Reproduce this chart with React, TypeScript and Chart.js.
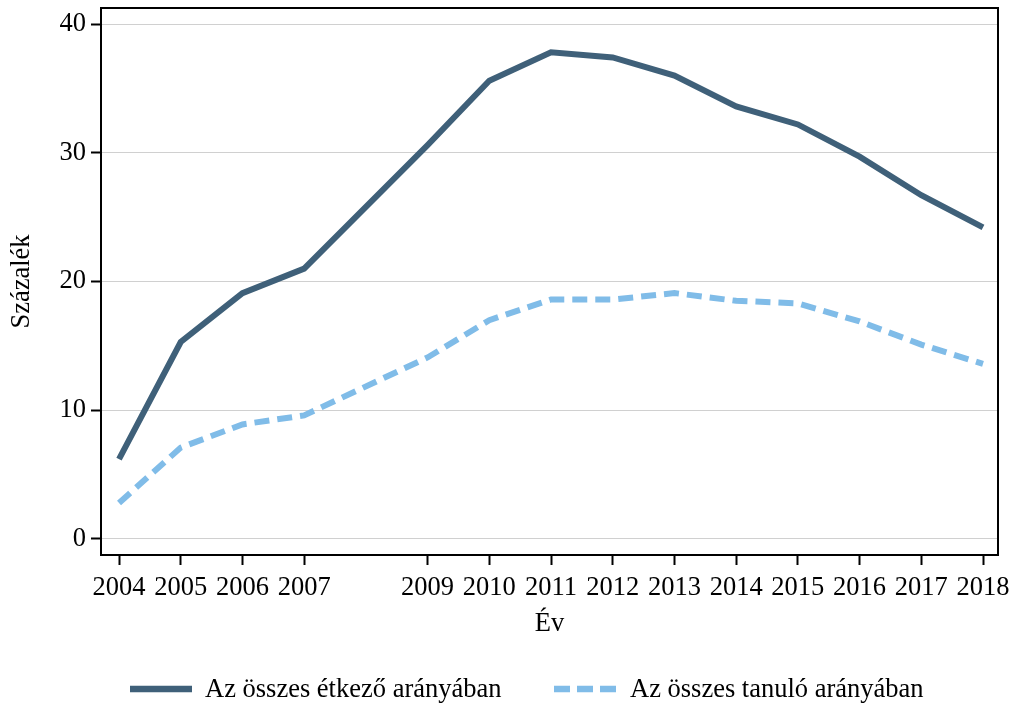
import React, { useEffect, useRef } from "react";
import { Chart, registerables } from "chart.js";

Chart.register(...registerables);

// ---- data ----
const years = [2004, 2005, 2006, 2007, 2009, 2010, 2011, 2012, 2013, 2014, 2015, 2016, 2017, 2018];
const mealShare = [6.2, 15.3, 19.1, 21.0, 30.6, 35.6, 37.8, 37.4, 36.0, 33.6, 32.2, 29.7, 26.7, 24.2];
const studentShare = [2.8, 7.1, 8.9, 9.6, 14.1, 17.0, 18.6, 18.6, 19.1, 18.5, 18.3, 16.9, 15.1, 13.6];
const xTickYears = [2004, 2005, 2006, 2007, 2009, 2010, 2011, 2012, 2013, 2014, 2015, 2016, 2017, 2018];
const yTickValues = [0, 10, 20, 30, 40];
const seriesNames = ["Az összes étkező arányában", "Az összes tanuló arányában"];
const xTitle = "Év";
const yTitle = "Százalék";

// ---- style ----
const FONT = "'Liberation Serif', 'Times New Roman', serif";
const DARK = "#3f6079";
const LIGHT = "#80bce8";
const FS = 26.5;

const framePlugin = {
  id: "frameBox",
  afterDraw(chart: any) {
    const { ctx, chartArea } = chart;
    ctx.save();
    ctx.strokeStyle = "#000";
    ctx.lineWidth = 2;
    ctx.beginPath();
    ctx.moveTo(chartArea.left, chartArea.top);
    ctx.lineTo(chartArea.right, chartArea.top);
    ctx.lineTo(chartArea.right, chartArea.bottom);
    ctx.stroke();
    ctx.restore();
  },
};

const legendPlugin = {
  id: "customLegend",
  afterDraw(chart: any) {
    const ctx = chart.ctx;
    const y = 689;
    const items = [
      { x0: 130, x1: 192, tx: 205, color: DARK, dash: [] as number[], label: seriesNames[0] },
      { x0: 554, x1: 616, tx: 630, color: LIGHT, dash: [16, 7], label: seriesNames[1] },
    ];
    ctx.save();
    for (const it of items) {
      ctx.strokeStyle = it.color;
      ctx.lineWidth = 6.5;
      ctx.lineCap = "butt";
      ctx.setLineDash(it.dash);
      ctx.beginPath();
      ctx.moveTo(it.x0, y);
      ctx.lineTo(it.x1, y);
      ctx.stroke();
      ctx.setLineDash([]);
      ctx.fillStyle = "#000";
      ctx.font = `${FS}px ${FONT}`;
      ctx.textBaseline = "middle";
      ctx.textAlign = "left";
      ctx.fillText(it.label, it.tx, y + 1);
    }
    ctx.restore();
  },
};

export default function App() {
  const ref = useRef<HTMLCanvasElement | null>(null);

  useEffect(() => {
    if (!ref.current) return;
    const chart = new Chart(ref.current, {
      type: "line",
      data: {
        datasets: [
          {
            label: seriesNames[0],
            data: years.map((x, i) => ({ x, y: mealShare[i] })),
            borderColor: DARK,
            backgroundColor: DARK,
            borderWidth: 6,
            pointRadius: 0,
            tension: 0,
            fill: false,
          },
          {
            label: seriesNames[1],
            data: years.map((x, i) => ({ x, y: studentShare[i] })),
            borderColor: LIGHT,
            backgroundColor: LIGHT,
            borderWidth: 6,
            borderDash: [15, 8],
            pointRadius: 0,
            tension: 0,
            fill: false,
          },
        ],
      },
      options: {
        responsive: false,
        animation: false,
        devicePixelRatio: 1,
        layout: { padding: { top: 8, right: 16, left: 0, bottom: 60 } },
        plugins: {
          legend: { display: false },
          tooltip: { enabled: false },
        },
        scales: {
          x: {
            type: "linear",
            min: 2003.708,
            max: 2018.243,
            afterFit: (s: any) => {
              s.height = 91;
              s.paddingLeft = 0;
              s.paddingRight = 0;
            },
            afterBuildTicks: (s: any) => {
              s.ticks = xTickYears.map((v) => ({ value: v }));
            },
            ticks: {
              color: "#000",
              font: { family: FONT, size: FS },
              padding: 7,
              maxRotation: 0,
              autoSkip: false,
              callback: (v: any) => String(v),
            },
            grid: {
              drawOnChartArea: false,
              drawTicks: true,
              tickLength: 10,
              tickColor: "#000",
              tickWidth: 2,
            },
            border: { display: true, color: "#000", width: 2 },
            title: {
              display: true,
              text: xTitle,
              color: "#000",
              font: { family: FONT, size: FS },
              padding: { top: 0, bottom: 6 },
            },
          },
          y: {
            type: "linear",
            min: -1.243,
            max: 41.243,
            afterFit: (s: any) => {
              s.width = 101;
              s.paddingTop = 0;
              s.paddingBottom = 0;
            },
            afterBuildTicks: (s: any) => {
              s.ticks = yTickValues.map((v) => ({ value: v }));
            },
            ticks: {
              color: "#000",
              font: { family: FONT, size: FS },
              padding: 5,
              callback: (v: any) => String(v),
            },
            grid: {
              color: "#d0d0d0",
              lineWidth: 1,
              drawTicks: true,
              tickLength: 10,
              tickColor: "#000",
              tickWidth: 2,
            },
            border: { display: true, color: "#000", width: 2 },
            title: {
              display: true,
              text: yTitle,
              color: "#000",
              font: { family: FONT, size: FS },
              padding: { top: 6, bottom: 0 },
            },
          },
        },
      },
      plugins: [framePlugin, legendPlugin],
    });
    return () => chart.destroy();
  }, []);

  return (
    <div style={{ position: "absolute", left: 0, top: 0, width: 1014, height: 706, background: "#fff" }}>
      <canvas ref={ref} width={1014} height={706} style={{ display: "block" }} />
    </div>
  );
}
